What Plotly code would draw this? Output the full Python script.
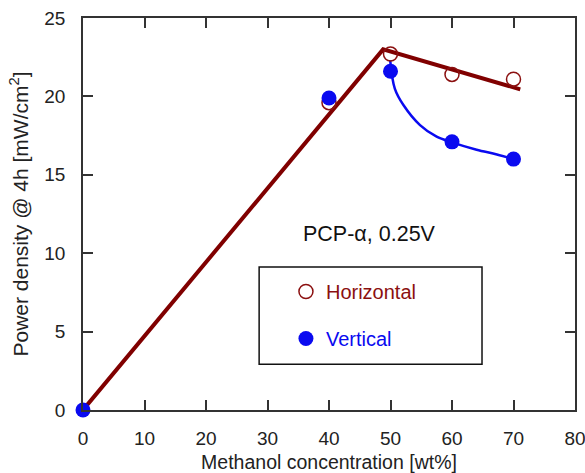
import plotly.graph_objects as go

# Data
horiz_x = [40, 50, 60, 70]
horiz_y = [19.6, 22.7, 21.4, 21.1]

vert_x = [0, 40, 50, 60, 70]
vert_y = [0, 19.9, 21.6, 17.1, 16.0]

# Maroon trend line (piecewise linear)
trend_x = [0, 48.8, 71.1]
trend_y = [0, 23.0, 20.45]

# Blue fitted curve
curve_x = [49.95, 50.7, 52.1, 54.8, 57.5, 60.0, 64.0, 67.3, 70.0]
curve_y = [22.3, 20.5, 19.45, 18.17, 17.43, 17.07, 16.6, 16.3, 16.0]

x_ticks = [0, 10, 20, 30, 40, 50, 60, 70, 80]
y_ticks = [0, 5, 10, 15, 20, 25]

MAROON = "#8B1010"
BLUE = "#0A0AF0"
AXIS = "#333333"
FONT = "Liberation Sans, Arial, sans-serif"

fig = go.Figure()

fig.add_trace(go.Scatter(x=trend_x, y=trend_y, mode="lines",
                         line=dict(color="#800000", width=4),
                         showlegend=False, cliponaxis=False, hoverinfo="skip"))
fig.add_trace(go.Scatter(x=curve_x, y=curve_y, mode="lines",
                         line=dict(color=BLUE, width=2.5, shape="spline"),
                         showlegend=False, cliponaxis=False, hoverinfo="skip"))
fig.add_trace(go.Scatter(x=horiz_x, y=horiz_y, mode="markers",
                         name=f'<span style="color:{MAROON}">Horizontal</span>',
                         legendgroup="h",
                         marker=dict(symbol="circle-open", size=14, color=MAROON,
                                     line=dict(width=1.5, color=MAROON)),
                         cliponaxis=False))
fig.add_trace(go.Scatter(x=vert_x, y=vert_y, mode="markers",
                         name=f'<span style="color:{BLUE}">Vertical</span>',
                         legendgroup="v",
                         marker=dict(symbol="circle", size=15, color=BLUE),
                         cliponaxis=False))

# legend frame
fig.add_shape(type="rect", xref="paper", yref="paper",
              x0=0.358, x1=0.811, y0=0.117, y1=0.365,
              line=dict(color="#111111", width=1.5), fillcolor="rgba(0,0,0,0)")

fig.add_annotation(x=35.5, y=11.2, xref="x", yref="y", text="PCP-α, 0.25V",
                   showarrow=False, xanchor="left", yanchor="middle",
                   font=dict(family=FONT, size=21.5, color="#111111"))

axis_common = dict(showline=True, linecolor=AXIS, linewidth=1.5, mirror="allticks",
                   ticks="inside", ticklen=10, tickwidth=1.5, tickcolor=AXIS,
                   showgrid=False, zeroline=False, automargin=False,
                   ticklabeloverflow="allow",
                   tickfont=dict(family=FONT, size=19, color="#222222"))

fig.update_xaxes(range=[0, 80], tickvals=x_ticks, ticktext=[str(v) for v in x_ticks],
                 ticklabelstandoff=10,
                 title=dict(text="Methanol concentration [wt%]", standoff=9,
                            font=dict(family=FONT, size=19.5, color="#222222")),
                 **axis_common)
fig.update_yaxes(range=[0, 25], tickvals=y_ticks, ticktext=[str(v) for v in y_ticks],
                 ticklabelstandoff=12,
                 title=dict(text="Power density @ 4h [mW/cm<sup>2</sup>]", standoff=10,
                            font=dict(family=FONT, size=21, color="#222222")),
                 **axis_common)

fig.update_layout(
    width=585, height=473,
    margin=dict(l=83, r=10, t=18, b=63),
    paper_bgcolor="white", plot_bgcolor="white",
    showlegend=True,
    legend=dict(x=0.4125, y=0.352, xanchor="left", yanchor="top",
                bgcolor="rgba(0,0,0,0)", borderwidth=0,
                tracegroupgap=18,
                font=dict(family=FONT, size=20, color="#222222")),
)

fig.write_html("out.html")
